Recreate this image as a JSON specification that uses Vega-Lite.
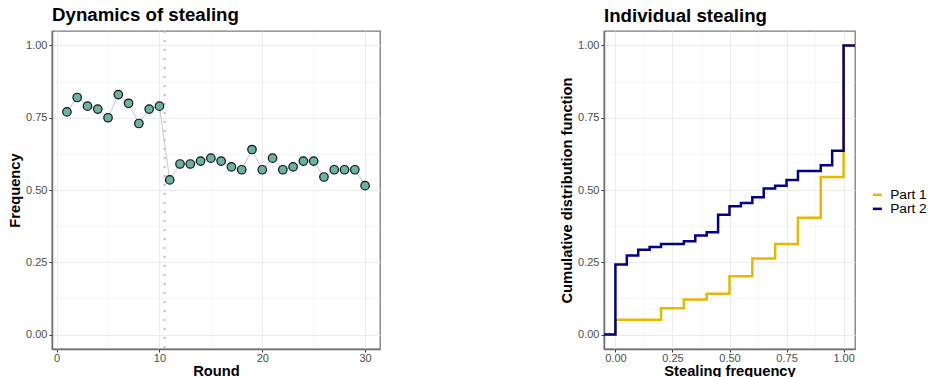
{
  "$schema": "https://vega.github.io/schema/vega-lite/v6.json",
  "padding": {"left": 6, "top": 5, "right": 0, "bottom": 0},
  "spacing": 177,
  "background": "white",
  "config": {
    "font": "Liberation Sans",
    "view": {"stroke": "#7A7A7A", "strokeWidth": 1.3},
    "title": {"fontSize": 18.7, "fontWeight": "bold", "anchor": "start", "frame": "group", "color": "#000000", "baseline": "alphabetic", "offset": 5.5},
    "axis": {
      "domainColor": "#6E6E6E",
      "domainWidth": 1.5,
      "tickColor": "#333333",
      "tickSize": 3,
      "labelColor": "#4D4D4D",
      "labelFontSize": 11,
      "labelPadding": 2,
      "titleFontSize": 14.7,
      "titleFontWeight": "bold",
      "titleColor": "#000000",
      "gridColor": "#EBEBEB"
    },
    "axisX": {"labelPadding": 0.5, "titlePadding": 0},
    "axisY": {"titlePadding": 3},
    "legend": {"labelFontSize": 13.7, "labelColor": "#000000"}
  },
  "datasets": {
    "rounds": [
      {"round": 1, "freq": 0.77}, {"round": 2, "freq": 0.82}, {"round": 3, "freq": 0.79},
      {"round": 4, "freq": 0.78}, {"round": 5, "freq": 0.75}, {"round": 6, "freq": 0.83},
      {"round": 7, "freq": 0.80}, {"round": 8, "freq": 0.73}, {"round": 9, "freq": 0.78},
      {"round": 10, "freq": 0.79}, {"round": 11, "freq": 0.535}, {"round": 12, "freq": 0.59},
      {"round": 13, "freq": 0.59}, {"round": 14, "freq": 0.60}, {"round": 15, "freq": 0.61},
      {"round": 16, "freq": 0.60}, {"round": 17, "freq": 0.58}, {"round": 18, "freq": 0.57},
      {"round": 19, "freq": 0.64}, {"round": 20, "freq": 0.57}, {"round": 21, "freq": 0.61},
      {"round": 22, "freq": 0.57}, {"round": 23, "freq": 0.58}, {"round": 24, "freq": 0.60},
      {"round": 25, "freq": 0.60}, {"round": 26, "freq": 0.545}, {"round": 27, "freq": 0.57},
      {"round": 28, "freq": 0.57}, {"round": 29, "freq": 0.57}, {"round": 30, "freq": 0.515}
    ],
    "split": [{"round": 10.5}],
    "ecdf": [
      {"part": "Part 1", "x": -0.05, "cdf": 0},
      {"part": "Part 1", "x": 0, "cdf": 0.051},
      {"part": "Part 1", "x": 0.2, "cdf": 0.091},
      {"part": "Part 1", "x": 0.3, "cdf": 0.121},
      {"part": "Part 1", "x": 0.4, "cdf": 0.141},
      {"part": "Part 1", "x": 0.5, "cdf": 0.202},
      {"part": "Part 1", "x": 0.6, "cdf": 0.263},
      {"part": "Part 1", "x": 0.7, "cdf": 0.313},
      {"part": "Part 1", "x": 0.8, "cdf": 0.404},
      {"part": "Part 1", "x": 0.9, "cdf": 0.545},
      {"part": "Part 1", "x": 1.0, "cdf": 1},
      {"part": "Part 1", "x": 1.05, "cdf": 1},
      {"part": "Part 2", "x": -0.05, "cdf": 0},
      {"part": "Part 2", "x": 0, "cdf": 0.242},
      {"part": "Part 2", "x": 0.05, "cdf": 0.273},
      {"part": "Part 2", "x": 0.1, "cdf": 0.293},
      {"part": "Part 2", "x": 0.15, "cdf": 0.303},
      {"part": "Part 2", "x": 0.2, "cdf": 0.313},
      {"part": "Part 2", "x": 0.3, "cdf": 0.323},
      {"part": "Part 2", "x": 0.35, "cdf": 0.343},
      {"part": "Part 2", "x": 0.4, "cdf": 0.354},
      {"part": "Part 2", "x": 0.45, "cdf": 0.414},
      {"part": "Part 2", "x": 0.5, "cdf": 0.444},
      {"part": "Part 2", "x": 0.55, "cdf": 0.455},
      {"part": "Part 2", "x": 0.6, "cdf": 0.475},
      {"part": "Part 2", "x": 0.65, "cdf": 0.505},
      {"part": "Part 2", "x": 0.7, "cdf": 0.515},
      {"part": "Part 2", "x": 0.75, "cdf": 0.535},
      {"part": "Part 2", "x": 0.8, "cdf": 0.566},
      {"part": "Part 2", "x": 0.9, "cdf": 0.586},
      {"part": "Part 2", "x": 0.95, "cdf": 0.636},
      {"part": "Part 2", "x": 1.0, "cdf": 1},
      {"part": "Part 2", "x": 1.05, "cdf": 1}
    ]
  },
  "hconcat": [
    {
      "width": 328,
      "height": 318,
      "title": {"text": "Dynamics of stealing"},
      "encoding": {
        "x": {
          "field": "round", "type": "quantitative",
          "scale": {"domain": [-0.45, 31.45], "nice": false, "zero": false},
          "axis": {
            "title": "Round",
            "values": [0, 5, 10, 15, 20, 25, 30],
            "labelExpr": "datum.value % 10 == 0 ? datum.label : ''",
            "tickOpacity": {"condition": {"test": "datum.value % 10 != 0", "value": 0}, "value": 1},
            "gridWidth": {"condition": {"test": "datum.value % 10 != 0", "value": 0.5}, "value": 1}
          }
        },
        "y": {
          "field": "freq", "type": "quantitative",
          "scale": {"domain": [-0.05, 1.05], "nice": false},
          "axis": {
            "title": "Frequency",
            "values": [0, 0.125, 0.25, 0.375, 0.5, 0.625, 0.75, 0.875, 1],
            "labelExpr": "(datum.value * 4) % 1 == 0 ? format(datum.value, '.2f') : ''",
            "tickOpacity": {"condition": {"test": "(datum.value * 4) % 1 != 0", "value": 0}, "value": 1},
            "gridWidth": {"condition": {"test": "(datum.value * 4) % 1 != 0", "value": 0.5}, "value": 1}
          }
        }
      },
      "layer": [
        {
          "data": {"name": "split"},
          "mark": {"type": "rule", "color": "#BDBDBD", "strokeWidth": 2, "strokeDash": [2, 7]},
          "encoding": {"y": null}
        },
        {
          "data": {"name": "rounds"},
          "mark": {"type": "line", "color": "#C8C8C8", "strokeWidth": 1}
        },
        {
          "data": {"name": "rounds"},
          "mark": {"type": "point", "filled": true, "fill": "#69B3A2", "stroke": "#111111", "strokeWidth": 1.2, "size": 72, "shape": "circle", "opacity": 1}
        }
      ]
    },
    {
      "width": 251,
      "height": 318,
      "title": {"text": "Individual stealing"},
      "data": {"name": "ecdf"},
      "encoding": {
        "x": {
          "field": "x", "type": "quantitative",
          "scale": {"domain": [-0.05, 1.05], "nice": false, "zero": false},
          "axis": {
            "title": "Stealing frequency",
            "values": [0, 0.125, 0.25, 0.375, 0.5, 0.625, 0.75, 0.875, 1],
            "labelExpr": "(datum.value * 4) % 1 == 0 ? format(datum.value, '.2f') : ''",
            "tickOpacity": {"condition": {"test": "(datum.value * 4) % 1 != 0", "value": 0}, "value": 1},
            "gridWidth": {"condition": {"test": "(datum.value * 4) % 1 != 0", "value": 0.5}, "value": 1}
          }
        },
        "y": {
          "field": "cdf", "type": "quantitative",
          "scale": {"domain": [-0.05, 1.05], "nice": false},
          "axis": {
            "title": "Cumulative distribution function",
            "values": [0, 0.125, 0.25, 0.375, 0.5, 0.625, 0.75, 0.875, 1],
            "labelExpr": "(datum.value * 4) % 1 == 0 ? format(datum.value, '.2f') : ''",
            "tickOpacity": {"condition": {"test": "(datum.value * 4) % 1 != 0", "value": 0}, "value": 1},
            "gridWidth": {"condition": {"test": "(datum.value * 4) % 1 != 0", "value": 0.5}, "value": 1}
          }
        },
        "color": {
          "field": "part", "type": "nominal",
          "scale": {"domain": ["Part 1", "Part 2"], "range": ["#E7B800", "#00008B"]},
          "legend": {
            "title": null, "orient": "none", "legendX": 818.5, "legendY": 157,
            "symbolType": "stroke", "symbolSize": 81, "symbolStrokeWidth": 2.5,
            "labelOffset": 6, "rowPadding": -5
          }
        }
      },
      "layer": [
        {
          "transform": [{"filter": "datum.part == 'Part 1'"}],
          "mark": {"type": "line", "interpolate": "step-after", "strokeWidth": 2.5, "clip": true}
        },
        {
          "transform": [{"filter": "datum.part == 'Part 2'"}],
          "mark": {"type": "line", "interpolate": "step-after", "strokeWidth": 2.5, "clip": true}
        }
      ]
    }
  ]
}
